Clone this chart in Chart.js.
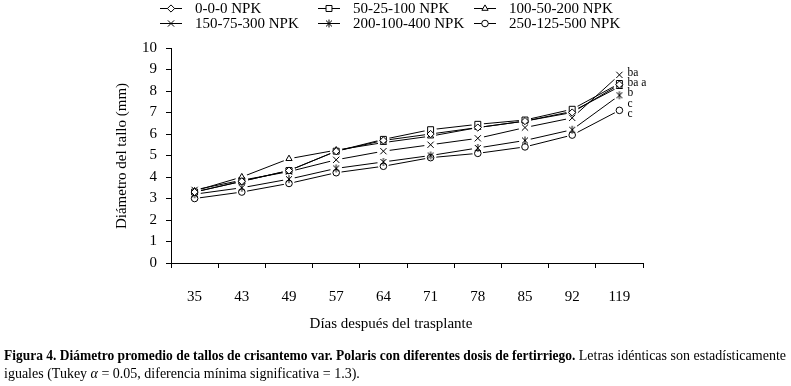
<!DOCTYPE html>
<html>
<head>
<meta charset="utf-8">
<script src="https://cdn.jsdelivr.net/npm/chart.js@4.4.1/dist/chart.umd.min.js"></script>
<style>
  html, body { margin: 0; padding: 0; background: #fff; }
  #grafica { display: block; }
</style>
</head>
<body>
<canvas id="grafica" width="791" height="386"></canvas>
<script>
// Diámetro del tallo (mm) por tratamiento
const dias = ['35', '43', '49', '57', '64', '71', '78', '85', '92', '119'];
const tratamientos = ['0-0-0 NPK', '50-25-100 NPK', '100-50-200 NPK',
                      '150-75-300 NPK', '200-100-400 NPK', '250-125-500 NPK'];

const npk0   = [3.30, 3.80, 4.30, 5.20, 5.70, 6.00, 6.30, 6.60, 7.00, 8.30];
const npk50  = [3.30, 3.80, 4.30, 5.20, 5.75, 6.20, 6.45, 6.65, 7.15, 8.35];
const npk100 = [3.35, 4.00, 4.85, 5.25, 5.60, 5.90, 6.30, 6.60, 7.05, 8.20];
const npk150 = [3.40, 3.85, 4.25, 4.80, 5.20, 5.50, 5.80, 6.30, 6.75, 8.75];
const npk200 = [3.20, 3.50, 3.90, 4.40, 4.70, 5.00, 5.35, 5.70, 6.20, 7.80];
const npk250 = [3.00, 3.30, 3.70, 4.20, 4.50, 4.90, 5.10, 5.40, 5.95, 7.10];

// letras de Tukey al final de las curvas (de arriba hacia abajo)
const letras = ['ba', 'ba a', 'b', 'c', 'c'];

const series = [npk0, npk50, npk100, npk150, npk200, npk250];
const SERIF = '"Liberation Serif", "Times New Roman", serif';

// asterisco: una X con una raya vertical
function asterisco(r) {
  const c = document.createElement('canvas');
  const s = Math.ceil(r * 2 + 2);
  c.width = s; c.height = s;
  const g = c.getContext('2d');
  const m = s / 2, d = r * 0.75;
  g.strokeStyle = '#000';
  g.lineWidth = 1;
  g.beginPath();
  g.moveTo(m - d, m - d); g.lineTo(m + d, m + d);
  g.moveTo(m + d, m - d); g.lineTo(m - d, m + d);
  g.moveTo(m, m - r); g.lineTo(m, m + r);
  g.stroke();
  return c;
}

const marcas = [
  { estilo: 'rectRot',  radio: 3.6 },
  { estilo: 'rect',     radio: 4.2 },
  { estilo: 'triangle', radio: 3.6 },
  { estilo: 'crossRot', radio: 4.4 },
  { estilo: asterisco(4), radio: 4 },
  { estilo: 'circle',   radio: 3.3 }
];

// dibuja una marca a mano (para la leyenda)
function dibujarMarca(ctx, i, x, y) {
  const m = marcas[i], r = m.radio;
  ctx.save();
  ctx.strokeStyle = '#000';
  ctx.fillStyle = '#fff';
  ctx.lineWidth = 1;
  ctx.beginPath();
  if (m.estilo === 'rectRot') {
    ctx.moveTo(x, y - r); ctx.lineTo(x + r, y); ctx.lineTo(x, y + r); ctx.lineTo(x - r, y); ctx.closePath();
    ctx.fill(); ctx.stroke();
  } else if (m.estilo === 'rect') {
    const s = r * Math.SQRT1_2;
    ctx.rect(x - s, y - s, 2 * s, 2 * s); ctx.fill(); ctx.stroke();
  } else if (m.estilo === 'triangle') {
    ctx.moveTo(x, y - r); ctx.lineTo(x + r * 0.87, y + r * 0.5); ctx.lineTo(x - r * 0.87, y + r * 0.5); ctx.closePath();
    ctx.fill(); ctx.stroke();
  } else if (m.estilo === 'crossRot') {
    const s = r * Math.SQRT1_2;
    ctx.moveTo(x - s, y - s); ctx.lineTo(x + s, y + s);
    ctx.moveTo(x + s, y - s); ctx.lineTo(x - s, y + s); ctx.stroke();
  } else if (m.estilo === 'circle') {
    ctx.arc(x, y, r, 0, Math.PI * 2); ctx.fill(); ctx.stroke();
  } else {
    ctx.drawImage(m.estilo, x - m.estilo.width / 2, y - m.estilo.height / 2);
  }
  ctx.restore();
}

// líneas primero (order 2), luego marcas (order 1)
const lineas = series.map((datos, i) => ({
  label: tratamientos[i],
  data: datos,
  borderColor: '#000',
  borderWidth: 1,
  pointRadius: 0,
  fill: false,
  tension: 0,
  order: 2,
  esMarca: false
}));
const puntos = series.map((datos, i) => ({
  label: tratamientos[i],
  data: datos,
  showLine: false,
  pointStyle: marcas[i].estilo,
  pointRadius: marcas[i].radio,
  pointBorderWidth: 1,
  pointBorderColor: '#000',
  pointBackgroundColor: '#fff',
  order: 1,
  esMarca: true
}));

// halo blanco alrededor de las marcas, como en el original
let halosHechos = false;
const halos = {
  id: 'halos',
  beforeDatasetsDraw() { halosHechos = false; },
  beforeDatasetDraw(chart, args) {
    if (halosHechos || !chart.data.datasets[args.index].esMarca) return;
    halosHechos = true;
    const ctx = chart.ctx;
    ctx.save();
    ctx.fillStyle = '#fff';
    chart.data.datasets.forEach((ds, i) => {
      if (!ds.esMarca) return;
      chart.getDatasetMeta(i).data.forEach(p => {
        ctx.beginPath();
        ctx.arc(p.x, p.y, marcas[i - lineas.length].radio + 2, 0, Math.PI * 2);
        ctx.fill();
      });
    });
    ctx.restore();
  }
};

const textos = {
  id: 'textos',
  afterDraw(chart) {
    const ctx = chart.ctx;
    const xs = chart.scales.x, ys = chart.scales.y;
    ctx.save();
    ctx.fillStyle = '#000';

    // leyenda
    const colX = [160, 318, 474];
    const filaY = [8, 23];
    ctx.font = '15px ' + SERIF;
    ctx.textBaseline = 'middle';
    tratamientos.forEach((t, i) => {
      const x = colX[i % 3], y = filaY[Math.floor(i / 3)];
      ctx.strokeStyle = '#000';
      ctx.lineWidth = 1;
      ctx.beginPath();
      ctx.moveTo(x, y + 0.5); ctx.lineTo(x + 22, y + 0.5); ctx.stroke();
      dibujarMarca(ctx, i, x + 11, y + 0.5);
      ctx.fillText(t, x + 35, y + 1);
    });

    // títulos de ejes
    ctx.textAlign = 'center';
    ctx.textBaseline = 'alphabetic';
    ctx.fillText('Días después del trasplante', 391, 328);
    ctx.save();
    ctx.translate(126, 156);
    ctx.rotate(-Math.PI / 2);
    ctx.fillText('Diámetro del tallo (mm)', 0, 0);
    ctx.restore();

    // letras de Tukey
    const ultimo = dias.length - 1;
    const xl = xs.getPixelForValue(ultimo) + 8;
    const y0 = ys.getPixelForValue(Math.max(...series.map(s => s[ultimo])));
    ctx.font = '11.5px ' + SERIF;
    ctx.textAlign = 'left';
    letras.forEach((l, i) => ctx.fillText(l, xl, y0 + 1 + i * 10.3));

    // pie de figura
    const negrita = 'Figura 4. Diámetro promedio de tallos de crisantemo var. Polaris con diferentes dosis de fertirriego.';
    const normal = ' Letras idénticas son estadísticamente';
    const fb = 'bold 14px ' + SERIF, fn = '14px ' + SERIF, fi = 'italic 14px ' + SERIF;
    ctx.font = fn; const wn = ctx.measureText(normal).width;
    ctx.font = fb; const wb = ctx.measureText(negrita).width;
    const kb = Math.min(1, (782 - wn) / wb);   // negrita estrecha, como en el original
    ctx.save();
    ctx.translate(4, 360);
    ctx.save();
    ctx.scale(kb, 1);
    ctx.fillText(negrita, 0, 0);
    ctx.restore();
    ctx.font = fn; ctx.fillText(normal, wb * kb, 0);
    ctx.restore();
    let x = 4;
    [['iguales (Tukey ', fn], ['α', fi], [' = 0.05, diferencia mínima significativa = 1.3).', fn]].forEach(([t, f]) => {
      ctx.font = f; ctx.fillText(t, x, 378); x += ctx.measureText(t).width;
    });

    ctx.restore();
  }
};

Chart.defaults.color = '#000';
Chart.defaults.font.family = SERIF;
Chart.defaults.font.size = 15;

new Chart(document.getElementById('grafica'), {
  type: 'line',
  data: { labels: dias, datasets: [...lineas, ...puntos] },
  options: {
    responsive: false,
    animation: false,
    devicePixelRatio: 1,
    layout: { padding: { top: 48, right: 148, bottom: 0, left: 0 } },
    plugins: { legend: { display: false }, tooltip: { enabled: false } },
    scales: {
      x: {
        offset: true,
        grid: { offset: true, drawOnChartArea: false, color: '#000', tickLength: 5 },
        border: { display: true, color: '#000', width: 1 },
        ticks: { padding: 20, autoSkip: false, maxRotation: 0 },
        afterFit: s => { s.height = 123; }
      },
      y: {
        min: 0,
        max: 10,
        grid: { drawOnChartArea: false, color: '#000', tickLength: 5 },
        border: { display: true, color: '#000', width: 1 },
        ticks: { stepSize: 1, padding: 9 },
        afterFit: s => { s.width = 171; }
      }
    }
  },
  plugins: [halos, textos]
});
</script>
</body>
</html>
